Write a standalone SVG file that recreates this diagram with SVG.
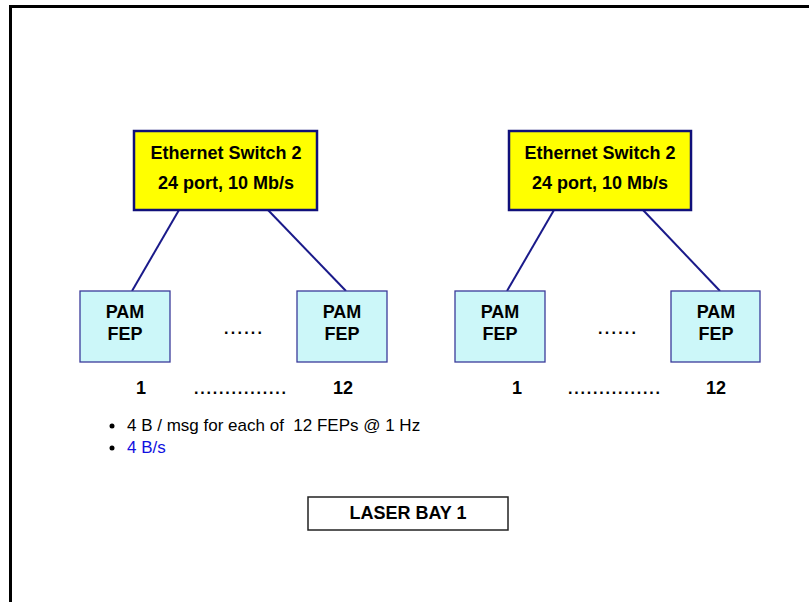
<svg xmlns="http://www.w3.org/2000/svg" width="809" height="602" viewBox="0 0 809 602">
<style>
.sw{fill:#ffff00;stroke:#10107a;stroke-width:2.5}
.pam{fill:#ccf7f9;stroke:#3b3b9a;stroke-width:1.3}
.t{font-family:"Liberation Sans",Arial,sans-serif;font-weight:bold;font-size:18px;fill:#000;text-anchor:middle}
.n{font-family:"Liberation Sans",Arial,sans-serif;font-size:17px;fill:#000}
.d{font-family:"Liberation Sans",Arial,sans-serif;font-size:16px;font-weight:bold;fill:#000;text-anchor:middle}
.c{stroke:#1a1a8a;stroke-width:2;fill:none}
</style>
<rect width="809" height="602" fill="#fff"/>
<path d="M10.5,602 V6.5 H809" fill="none" stroke="#000" stroke-width="3"/>
<g id="connectors">
<line class="c" x1="179" y1="210" x2="132" y2="291"/>
<line class="c" x1="268" y1="210" x2="346" y2="291"/>
<line class="c" x1="554" y1="210" x2="507" y2="291"/>
<line class="c" x1="643" y1="210" x2="720" y2="291"/>
</g>
<g id="switchA">
<rect class="sw" x="134" y="131" width="183" height="79"/>
<text class="t" x="226" y="159">Ethernet Switch 2</text>
<text class="t" x="226" y="189">24 port, 10 Mb/s</text>
</g>
<g id="switchB">
<rect class="sw" x="509" y="131" width="182" height="79"/>
<text class="t" x="600" y="159">Ethernet Switch 2</text>
<text class="t" x="600" y="189">24 port, 10 Mb/s</text>
</g>
<g id="pamA1">
<rect class="pam" x="80" y="291" width="90" height="71"/>
<text class="t" x="125" y="318">PAM</text>
<text class="t" x="125" y="340">FEP</text>
</g>
<g id="pamA12">
<rect class="pam" x="297" y="291" width="90" height="71"/>
<text class="t" x="342" y="318">PAM</text>
<text class="t" x="342" y="340">FEP</text>
</g>
<g id="pamB1">
<rect class="pam" x="455" y="291" width="90" height="71"/>
<text class="t" x="500" y="318">PAM</text>
<text class="t" x="500" y="340">FEP</text>
</g>
<g id="pamB12">
<rect class="pam" x="671" y="291" width="89" height="71"/>
<text class="t" x="716" y="318">PAM</text>
<text class="t" x="716" y="340">FEP</text>
</g>
<g id="labels">
<text class="d" x="243" y="334" textLength="38">......</text>
<text class="d" x="617" y="334" textLength="38">......</text>
<text class="t" x="141" y="394">1</text>
<text class="t" x="343" y="394">12</text>
<text class="d" x="240" y="394" textLength="92">...............</text>
<text class="t" x="517" y="394">1</text>
<text class="t" x="716" y="394">12</text>
<text class="d" x="614" y="394" textLength="92">...............</text>
</g>
<g id="notes">
<circle cx="112" cy="426" r="2.5" fill="#000"/>
<text class="n" x="127" y="431" xml:space="preserve">4 B / msg for each of  12 FEPs @ 1 Hz</text>
<circle cx="112" cy="448" r="2.5" fill="#000"/>
<text class="n" x="127" y="453" style="fill:#1010e0">4 B/s</text>
</g>
<g id="laserbay">
<rect x="308" y="497" width="200" height="33" fill="#fff" stroke="#222" stroke-width="1.5"/>
<text class="t" x="408" y="519">LASER BAY 1</text>
</g>
</svg>
